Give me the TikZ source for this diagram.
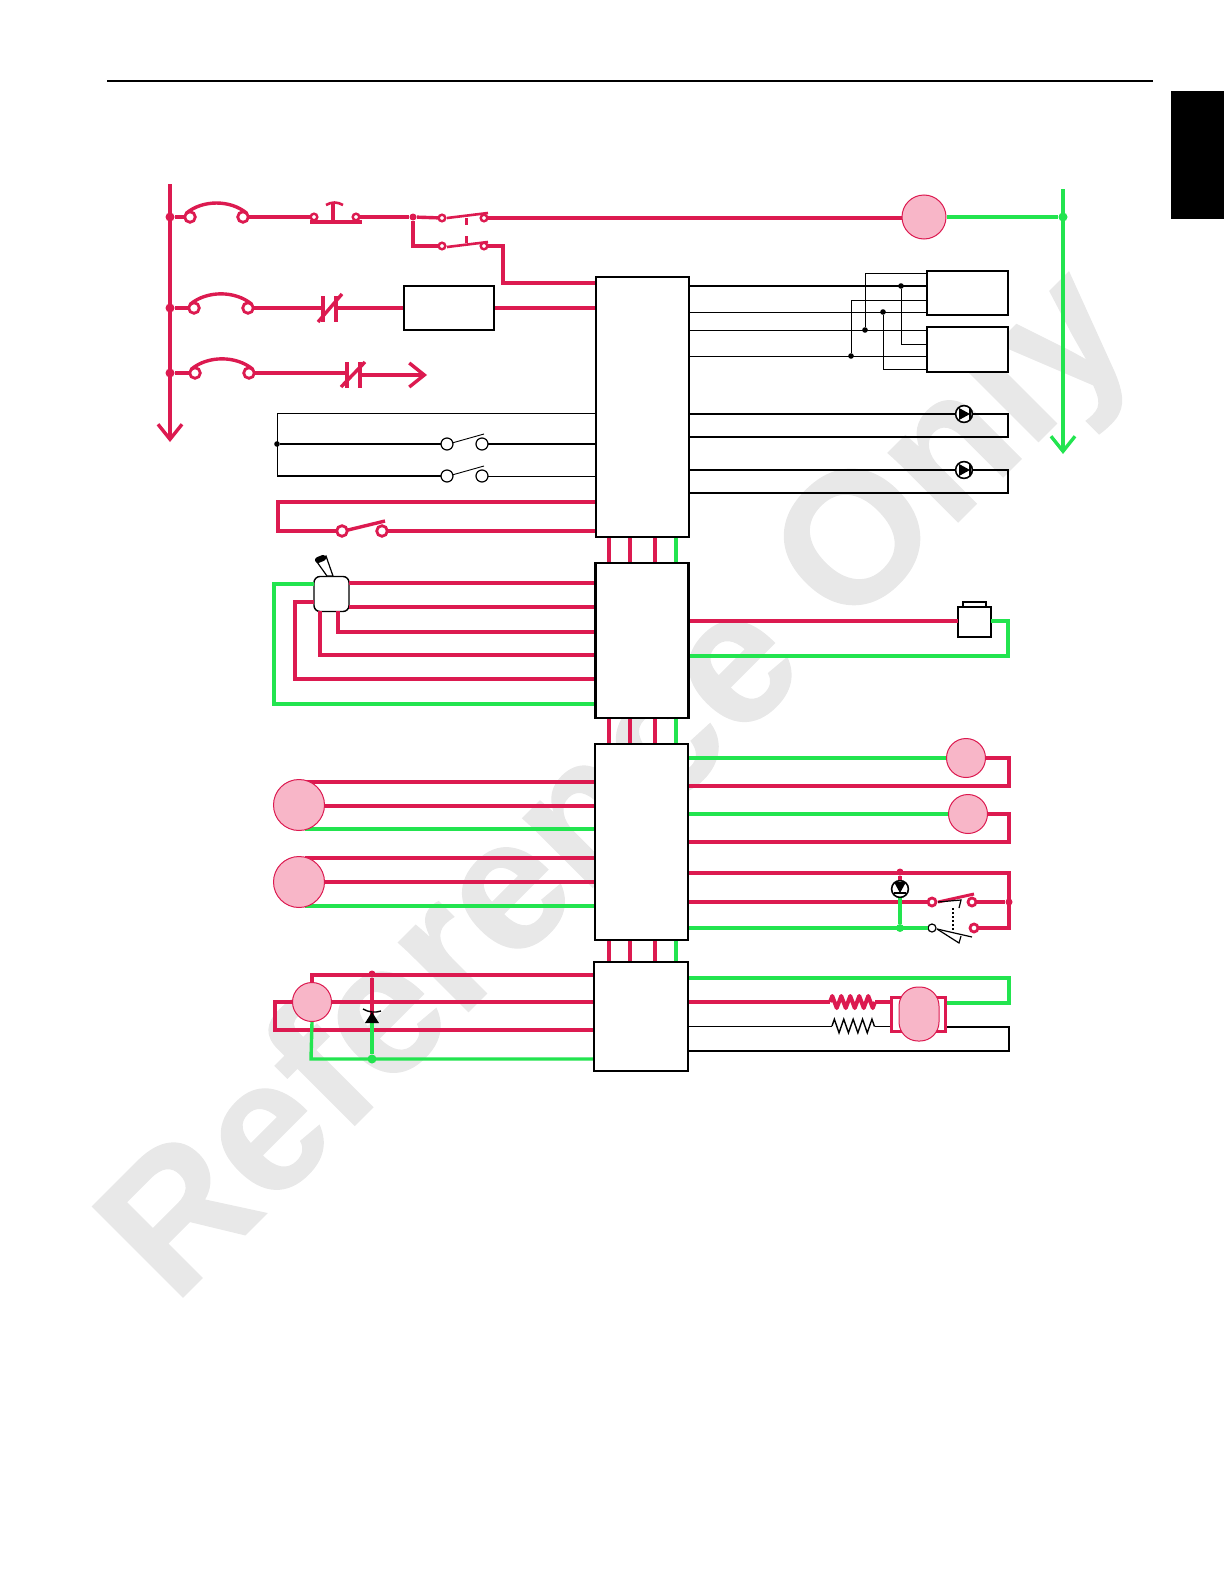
\documentclass[tikz,border=0pt]{standalone}
\usepackage{fontspec}
\usepackage{tikz}
\usetikzlibrary{arrows.meta}
\usetikzlibrary{decorations.pathmorphing}
\newfontfamily\markfont[FakeBold=0.7]{Liberation Sans Bold}
\definecolor{wirered}{HTML}{DC1A50}
\definecolor{wiregreen}{HTML}{22E44F}
\definecolor{loadpink}{HTML}{F8B6C8}
\definecolor{markgray}{HTML}{E8E8E8}
\tikzset{
	red wire/.style={draw=wirered,line width=1.7pt},
	green wire/.style={draw=wiregreen,line width=1.7pt},
	black wire/.style={draw=black,line width=1pt},
	thin wire/.style={draw=black,line width=0.45pt},
	module node/.style={rectangle,draw,fill=white,line width=1.2pt,inner sep=0pt},
	load node/.style={circle,draw=wirered,fill=loadpink,line width=0.5pt,inner sep=0pt},
	red term/.style={circle,draw=wirered,fill=white,line width=1.4pt,minimum size=5.3pt,inner sep=0pt,outer sep=0pt},
	mid term/.style={red term,line width=1.4pt,minimum size=4pt},
	small term/.style={red term,line width=1.2pt,minimum size=3.3pt},
	black term/.style={circle,draw,fill=white,line width=0.6pt,minimum size=6pt,inner sep=0pt,outer sep=0pt},
	red dot/.style={circle,fill=wirered,minimum size=4.5pt,inner sep=0pt},
	green dot/.style={circle,fill=wiregreen,minimum size=4.5pt,inner sep=0pt},
	black dot/.style={circle,fill=black,minimum size=2.8pt,inner sep=0pt},
	pump node/.style={circle,draw,fill=white,line width=0.8pt,minimum size=8.4pt,inner sep=0pt},
	open head/.style={-{Straight Barb[length=7.5pt,width=12pt]}},
}
\begin{document}
\begin{tikzpicture}[x=0.5pt,y=-0.5pt,line join=miter]
	\useasboundingbox (0,0) rectangle (1224,1584);
	\node[rotate=45,anchor=base west,inner sep=0pt,text=markgray] (watermark) at (174,1306) {\markfont\fontsize{93}{93}\selectfont Reference Only};

	\coordinate (rulea) at (107,81);
	\coordinate (ruleb) at (1153,81);
	\draw[line width=1pt] (rulea) -- (ruleb);
	\node[rectangle,fill=black,minimum width=26.5pt,minimum height=64pt,inner sep=0pt] (tab) at (1197.5,155) {};

	\node[module node,minimum width=46.5pt,minimum height=130pt] (moda) at (642.5,407) {};
	\node[module node,minimum width=46.5pt,minimum height=77.5pt] (modb) at (642,640.5) {};
	\node[module node,minimum width=46.5pt,minimum height=98pt] (modc) at (641.5,842) {};
	\node[module node,minimum width=47pt,minimum height=54.5pt] (modd) at (641,1016.5) {};

	\coordinate (col1) at (609,0);
	\coordinate (col2) at (630,0);
	\coordinate (col3) at (655,0);
	\coordinate (col4) at (676,0);
	\path[red wire]
	(moda.south -| col1) edge (modb.north -| col1)
	(moda.south -| col2) edge (modb.north -| col2)
	(moda.south -| col3) edge (modb.north -| col3)
	(modb.south -| col1) edge (modc.north -| col1)
	(modb.south -| col2) edge (modc.north -| col2)
	(modb.south -| col3) edge (modc.north -| col3)
	(modc.south -| col1) edge (modd.north -| col1)
	(modc.south -| col2) edge (modd.north -| col2)
	(modc.south -| col3) edge (modd.north -| col3);
	\path[green wire]
	(moda.south -| col4) edge (modb.north -| col4)
	(modb.south -| col4) edge (modc.north -| col4)
	(modc.south -| col4) edge (modd.north -| col4);

	\coordinate (bustop) at (170,184);
	\coordinate (busend) at (170,442);
	\draw[red wire,open head] (bustop) -- (busend);
	\node[red dot] (rowa) at (170,217) {};
	\node[red dot] (rowb) at (170,308) {};
	\node[red dot] (rowc) at (170,373) {};

	\node[red term] (brka) at (190,217) {};
	\node[red term] (brkb) at (243,217) {};
	\node[small term] (pba) at (314,217) {};
	\node[small term] (pbb) at (356,217) {};
	\node[red dot,minimum size=3.5pt] (split) at (413,217) {};
	\node[small term] (cona) at (442,218) {};
	\node[small term] (conb) at (484,218) {};
	\node[small term] (conc) at (442,246) {};
	\node[small term] (cond) at (484,246) {};
	\node[load node,minimum size=22pt] (coil) at (924,217) {};
	\coordinate (rise) at (503,283);
	\coordinate (pbl) at (310,222);
	\coordinate (pbr) at (362,222);
	\coordinate (pbm) at (333,222);
	\coordinate (pbt) at (333,204);
	\path[red wire]
	(rowa) edge (brka)
	(brkb) edge (pba)
	(pbb) edge (split)
	(split) edge (cona)
	(conb) edge (conb -| coil.west)
	(pbl) edge (pbr)
	(pbm) edge (pbt);
	\draw[red wire] (split) |- (conc);
	\draw[red wire] (cond) -| (rise) -- (rise -| moda.west);
	\draw[red wire] (brka.north west) to[out=40,in=140,looseness=0.9] (brkb.north east);
	\draw[red wire,line width=1.3pt] (326,205) to[out=30,in=150] (343,205);
	\draw[red wire,line width=1.3pt] (447,218) -- (488,213);
	\draw[red wire,line width=1.3pt] (447,247) -- (488,242);
	\draw[red wire,line width=1.5pt] (466,218) -- (466,225);
	\draw[red wire,line width=1.5pt] (466,236) -- (466,243);

	\node[red term] (brkc) at (194,308) {};
	\node[red term] (brkd) at (248,308) {};
	\node[module node,line width=1pt,minimum width=45pt,minimum height=22pt] (relay) at (449,308) {};
	\coordinate (nca) at (323,308);
	\coordinate (ncb) at (336,308);
	\path[red wire]
	(rowb) edge (brkc)
	(brkd) edge (nca)
	(ncb) edge (relay)
	(relay) edge (relay -| moda.west);
	\draw[red wire] (brkc.north west) to[out=40,in=140,looseness=0.9] (brkd.north east);
	\draw[red wire] (323,296) -- (323,322);
	\draw[red wire] (336,296) -- (336,322);
	\draw[red wire] (318,322) -- (342,294);

	\node[red term] (brke) at (195,373) {};
	\node[red term] (brkf) at (249,373) {};
	\coordinate (ncc) at (347,373);
	\coordinate (ncd) at (360,375);
	\coordinate (stub) at (427,375);
	\path[red wire]
	(rowc) edge (brke)
	(brkf) edge (ncc);
	\draw[red wire,open head] (ncd) -- (stub);
	\draw[red wire] (brke.north west) to[out=40,in=140,looseness=0.9] (brkf.north east);
	\draw[red wire] (347,362) -- (347,388);
	\draw[red wire] (360,362) -- (360,388);
	\draw[red wire] (341,387) -- (365,362);

	\coordinate (senstop) at (277,413);
	\node[black dot] (senmid) at (277,444) {};
	\coordinate (sensbot) at (277,476);
	\node[black term] (swa) at (447,444) {};
	\node[black term] (swb) at (482,444) {};
	\node[black term] (swc) at (447,476) {};
	\node[black term] (swd) at (482,476) {};
	\draw[thin wire] (sensbot) -- (senstop) -- (senstop -| moda.west);
	\path[black wire]
	(senmid) edge (swa)
	(swb) edge (swb -| moda.west)
	(sensbot) edge (swc);
	\draw[thin wire] (swd) -- (swd -| moda.west);
	\draw[thin wire] (452,443) -- (484,434);
	\draw[thin wire] (452,475) -- (484,466);

	\coordinate (loopa) at (278,502);
	\coordinate (loopb) at (278,531);
	\node[red term] (swe) at (342,531) {};
	\node[red term] (swf) at (382,531) {};
	\draw[red wire] (loopa -| moda.west) -- (loopa) -- (loopb) -- (swe);
	\draw[red wire] (swf) -- (swf -| moda.west);
	\draw[red wire] (348,530) -- (385,521);

	\node[rectangle,draw,fill=white,rounded corners=3pt,line width=0.7pt,minimum size=17.5pt,inner sep=0pt] (selsw) at (331.5,594) {};
	\draw[line width=0.6pt,fill=white] (317,562) -- (327,576) -- (333,576) -- (326,556) -- cycle;
	\draw[line width=3pt,line cap=round] (318,560) -- (323,558);
	\coordinate (sela) at (349,583);
	\coordinate (selb) at (349,607);
	\coordinate (selc) at (338,611);
	\coordinate (seld) at (320,611);
	\coordinate (sele) at (314,602);
	\coordinate (self) at (314,584);
	\coordinate (selg) at (338,632);
	\coordinate (selh) at (320,655);
	\coordinate (seli) at (295,679);
	\coordinate (selj) at (274,704);
	\path[red wire]
	(sela) edge (sela -| modb.west)
	(selb) edge (selb -| modb.west);
	\draw[red wire] (selc) -- (selg) -- (selg -| modb.west);
	\draw[red wire] (seld) -- (selh) -- (selh -| modb.west);
	\draw[red wire] (sele) -- (sele -| seli) -- (seli) -- (seli -| modb.west);
	\draw[green wire] (self) -- (self -| selj) -- (selj) -- (selj -| modb.west);

	\node[rectangle,draw,fill=white,line width=0.8pt,minimum width=16.5pt,minimum height=15pt,inner sep=0pt] (plug) at (974.5,622) {};
	\node[rectangle,draw,fill=white,line width=0.6pt,minimum width=11.5pt,minimum height=2.5pt,inner sep=0pt] (plugcap) at (974.5,604.5) {};
	\coordinate (plugl) at (958,621);
	\coordinate (plugm) at (991,621);
	\coordinate (plugr) at (1008,621);
	\coordinate (plugs) at (1008,656);
	\draw[red wire] (plugl) -- (plugl -| modb.east);
	\draw[green wire] (plugm) -- (plugr) -- (plugs) -- (plugs -| modb.east);

	\coordinate (moa) at (305,782);
	\coordinate (mob) at (324,806);
	\coordinate (moc) at (305,829);
	\coordinate (mod) at (305,858);
	\coordinate (moe) at (324,882);
	\coordinate (mof) at (305,906);
	\path[red wire]
	(moa) edge (moa -| modc.west)
	(mob) edge (mob -| modc.west)
	(mod) edge (mod -| modc.west)
	(moe) edge (moe -| modc.west);
	\path[green wire]
	(moc) edge (moc -| modc.west)
	(mof) edge (mof -| modc.west);
	\node[load node,minimum size=25.5pt] (motora) at (299,805) {};
	\node[load node,minimum size=25.5pt] (motorb) at (299,882) {};

	\node[load node,minimum size=19.5pt] (lampa) at (966,758) {};
	\node[load node,minimum size=19.5pt] (lampb) at (968,814) {};
	\coordinate (lampc) at (1009,758);
	\coordinate (lampd) at (1009,786);
	\coordinate (lampe) at (1009,814);
	\coordinate (lampf) at (1009,842);
	\draw[green wire] (lampa) -- (lampa -| modc.east);
	\draw[red wire] (lampa) -- (lampc) -- (lampd) -- (lampd -| modc.east);
	\draw[green wire] (lampb) -- (lampb -| modc.east);
	\draw[red wire] (lampb) -- (lampe) -- (lampf) -- (lampf -| modc.east);

	\coordinate (relc) at (1009,873);
	\coordinate (relf) at (1009,928);
	\node[red dot,minimum size=3.5pt] (reld) at (1009,902) {};
	\node[red dot,minimum size=3.5pt] (rele) at (900,872) {};
	\node[pump node] (ledc) at (900,889) {};
	\node[green dot,minimum size=4pt] (relg) at (900,928) {};
	\node[mid term] (relh) at (932,902) {};
	\node[mid term] (reli) at (972,902) {};
	\node[mid term] (relj) at (974,928) {};
	\node[black term,minimum size=4pt] (relk) at (932,928) {};
	\draw[red wire] (relc -| modc.east) -- (relc) -- (relf) -- (relj);
	\draw[red wire] (rele) -- (ledc);
	\draw[red wire] (relh) -- (relh -| modc.east);
	\draw[red wire] (reli) -- (reld);
	\draw[green wire] (relg) -- (ledc);
	\draw[green wire] (relk) -- (relk -| modc.east);
	\fill (894,882) -- (906,882) -- (900,893) -- cycle;
	\draw[line width=0.6pt] (894,893) -- (906,893);
	\draw[red wire,line width=1.5pt] (938,902) -- (974,894);
	\draw[line width=0.6pt] (938,902) -- (961,900) -- (959,908);
	\draw[line width=0.7pt,dash pattern=on 1pt off 1pt] (953,908) -- (953,930);
	\draw[line width=0.6pt] (937,929) -- (972,937);
	\draw[line width=0.6pt] (937,929) -- (959,943) -- (961,936);

	\coordinate (outa) at (1009,978);
	\coordinate (outb) at (1009,1003);
	\coordinate (outc) at (1009,1027);
	\coordinate (outd) at (1009,1051);
	\coordinate (resa) at (830,1002);
	\coordinate (resb) at (875,1002);
	\coordinate (resc) at (832,1026);
	\coordinate (resd) at (875,1026);
	\node[rectangle,draw=wirered,fill=white,line width=1.6pt,minimum width=27pt,minimum height=17pt,inner sep=0pt] (clutch) at (918.5,1014.5) {};
	\node[rectangle,draw=wirered,fill=loadpink,rounded corners=9.5pt,line width=0.5pt,minimum width=20pt,minimum height=27pt,inner sep=0pt] (clutcho) at (919,1014) {};
	\draw[green wire] (outa -| modd.east) -- (outa) -- (outb) -- (outb -| clutch.east);
	\draw[red wire] (resa -| modd.east) -- (resa);
	\draw[red wire,line width=2pt,line join=round,decorate,decoration={zigzag,segment length=4.5pt,amplitude=3pt}] (resa) -- (resb);
	\draw[red wire] (resb) -- (resb -| clutch.west);
	\draw[thin wire] (resc -| modd.east) -- (resc);
	\draw[thin wire,line width=0.7pt,decorate,decoration={zigzag,segment length=4.7pt,amplitude=3.4pt}] (resc) -- (resd);
	\draw[thin wire] (resd) -- (resd -| clutch.west);
	\draw[black wire] (clutch.east |- outc) -- (outc) -- (outd) -- (outd -| modd.east);

	\coordinate (drva) at (312,975);
	\coordinate (drvb) at (275,1002);
	\coordinate (drvc) at (275,1030);
	\coordinate (drvd) at (311,1059);
	\node[load node,minimum size=19.5pt] (pumpm) at (312,1002) {};
	\node[red dot,minimum size=3.5pt] (zentop) at (372,974) {};
	\node[green dot,minimum size=4.5pt] (zenbot) at (372,1059) {};
	\coordinate (zenm) at (372,1016);
	\draw[red wire] (pumpm.north) -- (drva) -- (drva -| modd.west);
	\draw[red wire] (pumpm.east) -- (pumpm.east -| modd.west);
	\draw[red wire] (pumpm.west) -- (drvb) -- (drvc) -- (drvc -| modd.west);
	\draw[green wire] (pumpm.south) -- (drvd) -- (drvd -| modd.west);
	\draw[red wire] (zentop) -- (zenm);
	\draw[green wire] (zenbot) -- (zenm);
	\fill (372,1012) -- (379,1023) -- (365,1023) -- cycle;
	\draw[line width=0.7pt] (363,1009) to[out=-20,in=180] (372,1012) to[out=0,in=200] (381,1011);

	\coordinate (rbus) at (1063,189);
	\coordinate (rbusend) at (1063,454);
	\node[green dot] (rowg) at (1063,217) {};
	\draw[green wire,open head] (rbus) -- (rbusend);
	\draw[green wire] (coil) -- (rowg);

	\node[module node,line width=0.9pt,minimum width=40.5pt,minimum height=22pt] (vala) at (967.5,293) {};
	\node[module node,line width=0.9pt,minimum width=40.5pt,minimum height=22.5pt] (valb) at (967.5,349.5) {};
	\node[black dot] (jca) at (901,286) {};
	\node[black dot] (jcb) at (883,312) {};
	\node[black dot] (jcc) at (865,330) {};
	\node[black dot] (jcd) at (851,356) {};
	\coordinate (vca) at (927,344);
	\coordinate (vcb) at (927,369);
	\coordinate (vcc) at (927,273);
	\coordinate (vcd) at (927,300);
	\draw[black wire] (jca -| moda.east) -- (jca -| vala.west);
	\path[thin wire]
	(jcb -| moda.east) edge (jcb -| vala.west)
	(jcc -| moda.east) edge (jcc -| valb.west)
	(jcd -| moda.east) edge (jcd -| valb.west);
	\draw[thin wire] (jca) |- (vca);
	\draw[thin wire] (jcb) |- (vcb);
	\draw[thin wire] (jcc) |- (vcc);
	\draw[thin wire] (jcd) |- (vcd);

	\node[pump node] (leda) at (964,414) {};
	\node[pump node] (ledb) at (964,470) {};
	\coordinate (rega) at (1008,414);
	\coordinate (regb) at (1008,437);
	\coordinate (regc) at (1008,470);
	\coordinate (regd) at (1008,493);
	\draw[black wire] (leda -| moda.east) -- (leda);
	\draw[black wire] (leda) -- (rega) -- (regb) -- (regb -| moda.east);
	\draw[black wire] (ledb -| moda.east) -- (ledb);
	\draw[black wire] (ledb) -- (regc) -- (regd) -- (regd -| moda.east);
	\fill (959,408) -- (970,414) -- (959,420) -- cycle;
	\fill (959,464) -- (970,470) -- (959,476) -- cycle;
	\draw[line width=0.7pt] (970,408) -- (970,420);
	\draw[line width=0.7pt] (970,464) -- (970,476);
\end{tikzpicture}
\end{document}
